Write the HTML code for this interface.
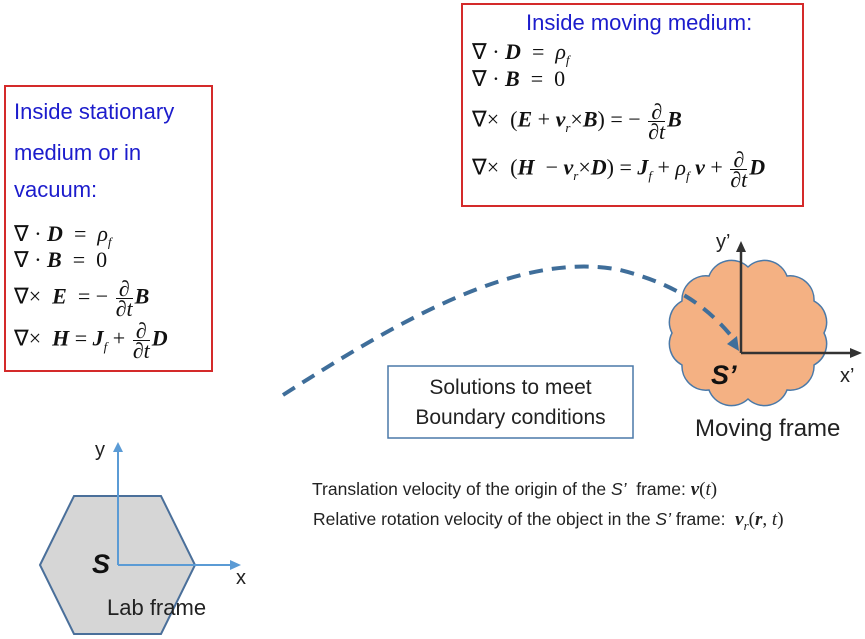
<!DOCTYPE html>
<html><head><meta charset="utf-8"><style>
body{margin:0;width:865px;height:639px;background:#fff;position:relative;overflow:hidden;font-family:"Liberation Sans",sans-serif}
.a{position:absolute;white-space:nowrap}
.blue{color:#1c1ccc;font-size:22px}
.eq{font-family:"Liberation Serif",serif;font-size:22px;color:#111}
.eq b{font-style:italic}
.fr{display:inline-block;vertical-align:middle;text-align:center;font-style:italic;line-height:19px;margin:0 2px}
.fr span{display:block}
.fr span:first-child{border-bottom:1.3px solid #111}
sub{font-size:13px;font-style:italic}
</style></head><body>
<svg class="a" style="left:0;top:0" width="865" height="639">
<rect x="5" y="86" width="207" height="285" fill="none" stroke="#d42a2a" stroke-width="2"/>
<rect x="462" y="4" width="341" height="202" fill="none" stroke="#d42a2a" stroke-width="2"/>
<rect x="388" y="366" width="245" height="72" fill="none" stroke="#4a79a8" stroke-width="1.5"/>
<polygon points="40,565 74,496 161,496 195,565 161,634 74,634" fill="#d6d6d6" stroke="#4a6f9a" stroke-width="2"/>
<line x1="118" y1="565" x2="118" y2="450" stroke="#5b9bd5" stroke-width="2"/>
<polygon points="113,452 118,442 123,452" fill="#5b9bd5"/>
<line x1="118" y1="565" x2="232" y2="565" stroke="#5b9bd5" stroke-width="2"/>
<polygon points="230,560 241,565 230,570" fill="#5b9bd5"/>
<path d="M824,333 A24,24 0 0 0 814,301 A24,24 0 0 0 787,276 A24,24 0 0 0 748,267 A24,24 0 0 0 709,276 A24,24 0 0 0 682,301 A24,24 0 0 0 672,333 A24,24 0 0 0 682,365 A24,24 0 0 0 709,390 A24,24 0 0 0 748,399 A24,24 0 0 0 787,390 A24,24 0 0 0 814,365 A24,24 0 0 0 824,333 Z" fill="#f4b183" stroke="#4a79a8" stroke-width="1.5"/>
<line x1="741" y1="353" x2="741" y2="250" stroke="#333" stroke-width="2.5"/>
<polygon points="736,252 741,241 746,252" fill="#333"/>
<line x1="741" y1="353" x2="852" y2="353" stroke="#333" stroke-width="2.5"/>
<polygon points="850,348 862,353 850,358" fill="#333"/>
<path d="M283,395 C400,320 520,250 620,270 C680,285 710,310 733,338" fill="none" stroke="#3f6e9a" stroke-width="4" stroke-dasharray="14,9"/>
<polygon points="727,344 739,351 737,336" fill="#3f6e9a"/>
</svg>
<div class="a blue" style="left:14px;top:99px">Inside stationary</div>
<div class="a blue" style="left:14px;top:140px">medium or in</div>
<div class="a blue" style="left:14px;top:177px">vacuum:</div>
<div class="a eq" style="left:14px;top:221px">∇ · <b>D</b> &nbsp;= &nbsp;<i>ρ<sub>f</sub></i></div>
<div class="a eq" style="left:14px;top:247px">∇ · <b>B</b> &nbsp;= &nbsp;0</div>
<div class="a eq" style="left:14px;top:279px">∇× &nbsp;<b>E</b> &nbsp;= − <span class="fr"><span>∂</span><span>∂t</span></span><b>B</b></div>
<div class="a eq" style="left:14px;top:321px">∇× &nbsp;<b>H</b> = <b>J</b><sub>f</sub> + <span class="fr"><span>∂</span><span>∂t</span></span><b>D</b></div>
<div class="a blue" style="left:526px;top:10px">Inside moving medium:</div>
<div class="a eq" style="left:472px;top:39px">∇ · <b>D</b> &nbsp;= &nbsp;<i>ρ<sub>f</sub></i></div>
<div class="a eq" style="left:472px;top:66px">∇ · <b>B</b> &nbsp;= &nbsp;0</div>
<div class="a eq" style="left:472px;top:102px">∇× &nbsp;(<b>E</b> + <b>v</b><sub>r</sub>×<b>B</b>) = − <span class="fr"><span>∂</span><span>∂t</span></span><b>B</b></div>
<div class="a eq" style="left:472px;top:150px">∇× &nbsp;(<b>H</b> &nbsp;− <b>v</b><sub>r</sub>×<b>D</b>) = <b>J</b><sub>f</sub> + <i>ρ<sub>f</sub></i> <b>v</b> + <span class="fr"><span>∂</span><span>∂t</span></span><b>D</b></div>
<div class="a" style="left:388px;top:373px;width:245px;text-align:center;font-size:21px;line-height:30px;color:#222">Solutions to meet<br>Boundary conditions</div>
<div class="a" style="left:716px;top:231px;font-size:20px;color:#222">y’</div>
<div class="a" style="left:840px;top:365px;font-size:20px;color:#222">x’</div>
<div class="a" style="left:711px;top:360px;font-size:27px;font-weight:bold;font-style:italic;color:#111">S’</div>
<div class="a" style="left:695px;top:415px;font-size:24px;color:#222">Moving frame</div>
<div class="a" style="left:95px;top:439px;font-size:20px;color:#222">y</div>
<div class="a" style="left:236px;top:567px;font-size:20px;color:#222">x</div>
<div class="a" style="left:92px;top:549px;font-size:27px;font-weight:bold;font-style:italic;color:#111">S</div>
<div class="a" style="left:107px;top:595px;font-size:22px;color:#222">Lab frame</div>
<div class="a" style="left:312px;top:479px;font-size:17.5px;color:#222">Translation velocity of the origin of the <i>S’</i> &nbsp;frame: <span style="font-family:'Liberation Serif',serif;font-size:19px"><b><i>v</i></b>(<i>t</i>)</span></div>
<div class="a" style="left:313px;top:509px;font-size:17.5px;color:#222">Relative rotation velocity of the object in the <i>S’</i> frame: &nbsp;<span style="font-family:'Liberation Serif',serif;font-size:19px"><b><i>v</i></b><sub>r</sub>(<b><i>r</i></b>, <i>t</i>)</span></div>
</body></html>
